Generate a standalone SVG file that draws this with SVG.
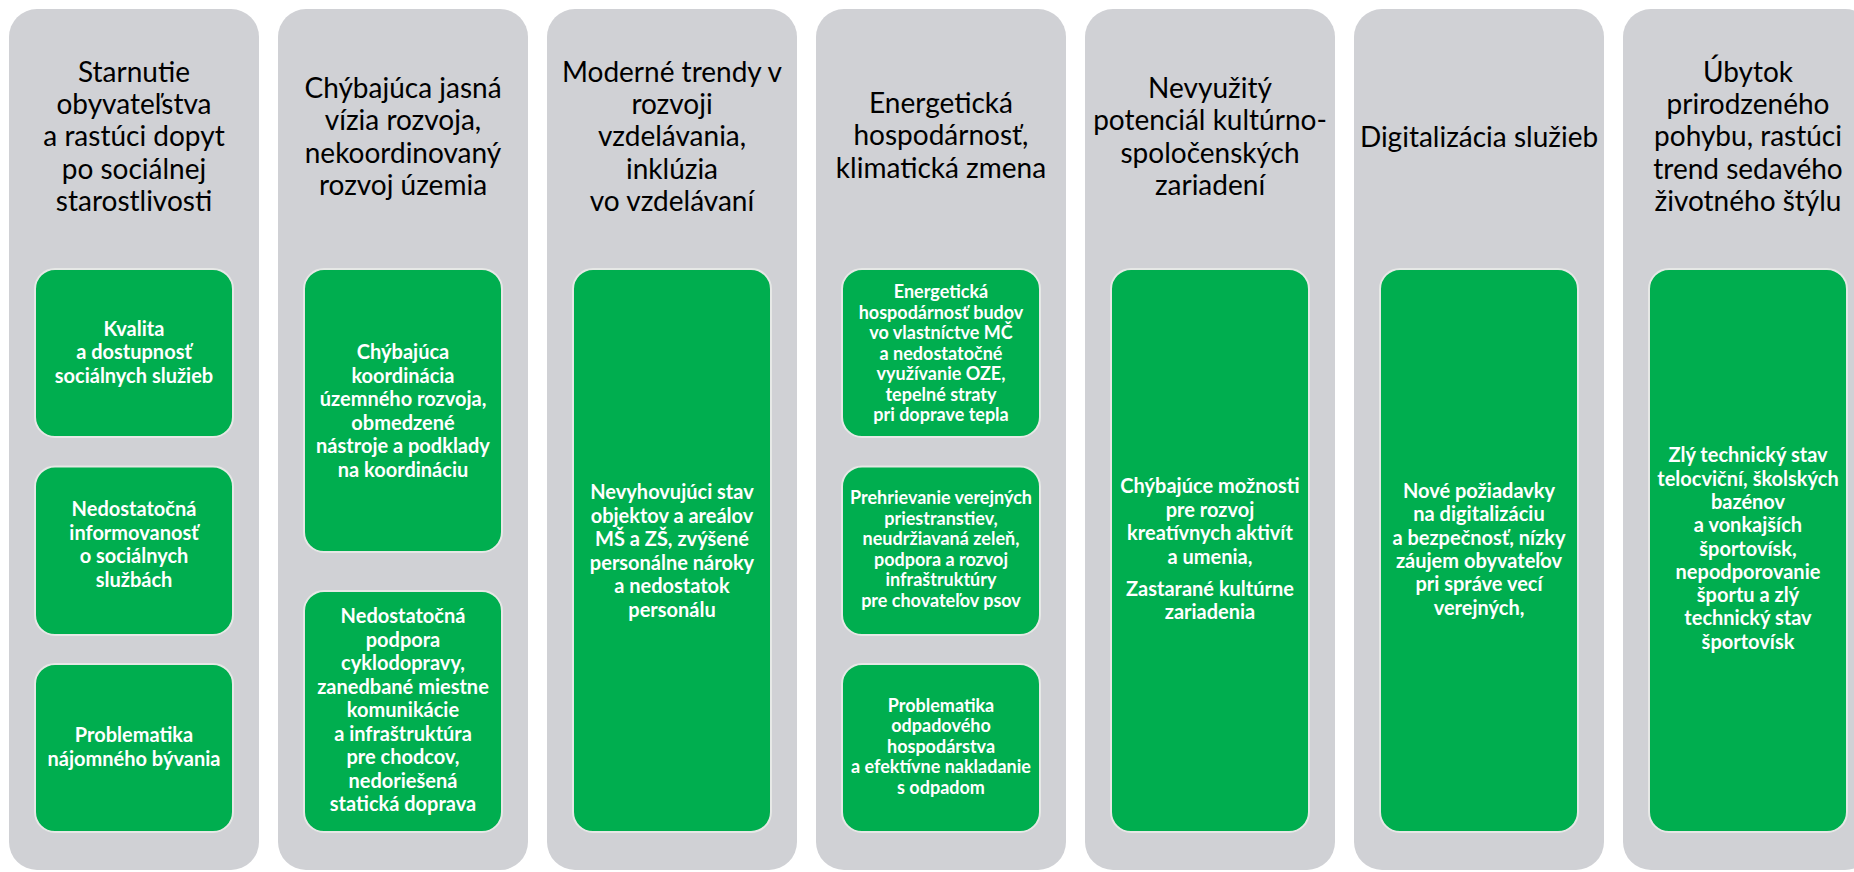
<svg xmlns="http://www.w3.org/2000/svg" width="1854" height="872" viewBox="0 0 1854 872">
<style>
.panel{fill:#D0D1D5}
.box{fill:#00AE4F;stroke:#E6E8E6;stroke-width:2}
.hdr{font-family:Lato,"Liberation Sans",sans-serif;font-size:28px;fill:#000;text-anchor:middle}
.bt{font-family:Lato,"Liberation Sans",sans-serif;font-weight:bold;font-size:20px;fill:#fff;text-anchor:middle}
.bs{font-size:18px}
</style>
<rect width="1854" height="872" fill="#fff"/>

<g id="col1">
<rect class="panel" x="9" y="9" width="250" height="861" rx="28"/>
<text class="hdr"><tspan x="134" y="82">Starnutie</tspan><tspan x="134" y="114.2">obyvateľstva</tspan><tspan x="134" y="146.4">a rastúci dopyt</tspan><tspan x="134" y="178.6">po sociálnej</tspan><tspan x="134" y="210.8">starostlivosti</tspan></text>
<g id="col1-box1"><rect class="box" x="35" y="269" width="198" height="168" rx="20"/>
<text class="bt"><tspan x="134" y="335.5">Kvalita</tspan><tspan x="134" y="359">a dostupnosť</tspan><tspan x="134" y="382.5">sociálnych služieb</tspan></text></g>
<g id="col1-box2"><rect class="box" x="35" y="466.5" width="198" height="168.5" rx="20"/>
<text class="bt"><tspan x="134" y="516">Nedostatočná</tspan><tspan x="134" y="539.5">informovanosť</tspan><tspan x="134" y="563">o sociálnych</tspan><tspan x="134" y="586.5">službách</tspan></text></g>
<g id="col1-box3"><rect class="box" x="35" y="664" width="198" height="168" rx="20"/>
<text class="bt"><tspan x="134" y="742">Problematika</tspan><tspan x="134" y="765.5">nájomného bývania</tspan></text></g>
</g>

<g id="col2">
<rect class="panel" x="278" y="9" width="250" height="861" rx="28"/>
<text class="hdr"><tspan x="403" y="98">Chýbajúca jasná</tspan><tspan x="403" y="130.3">vízia rozvoja,</tspan><tspan x="403" y="162.6">nekoordinovaný</tspan><tspan x="403" y="194.9">rozvoj územia</tspan></text>
<g id="col2-box1"><rect class="box" x="304" y="269" width="198" height="283" rx="20"/>
<text class="bt"><tspan x="403" y="359">Chýbajúca</tspan><tspan x="403" y="382.5">koordinácia</tspan><tspan x="403" y="406">územného rozvoja,</tspan><tspan x="403" y="429.5">obmedzené</tspan><tspan x="403" y="453">nástroje a podklady</tspan><tspan x="403" y="476.5">na koordináciu</tspan></text></g>
<g id="col2-box2"><rect class="box" x="304" y="591" width="198" height="241" rx="20"/>
<text class="bt"><tspan x="403" y="623">Nedostatočná</tspan><tspan x="403" y="646.5">podpora</tspan><tspan x="403" y="670">cyklodopravy,</tspan><tspan x="403" y="693.5">zanedbané miestne</tspan><tspan x="403" y="717">komunikácie</tspan><tspan x="403" y="740.5">a infraštruktúra</tspan><tspan x="403" y="764">pre chodcov,</tspan><tspan x="403" y="787.5">nedoriešená</tspan><tspan x="403" y="811">statická doprava</tspan></text></g>
</g>

<g id="col3">
<rect class="panel" x="547" y="9" width="250" height="861" rx="28"/>
<text class="hdr"><tspan x="672" y="82">Moderné trendy v</tspan><tspan x="672" y="114.2">rozvoji</tspan><tspan x="672" y="146.4">vzdelávania,</tspan><tspan x="672" y="178.6">inklúzia</tspan><tspan x="672" y="210.8">vo vzdelávaní</tspan></text>
<g id="col3-box1"><rect class="box" x="573" y="269" width="198" height="563" rx="20"/>
<text class="bt"><tspan x="672" y="499">Nevyhovujúci stav</tspan><tspan x="672" y="522.5">objektov a areálov</tspan><tspan x="672" y="546">MŠ a ZŠ, zvýšené</tspan><tspan x="672" y="569.5">personálne nároky</tspan><tspan x="672" y="593">a nedostatok</tspan><tspan x="672" y="616.5">personálu</tspan></text></g>
</g>

<g id="col4">
<rect class="panel" x="816" y="9" width="250" height="861" rx="28"/>
<text class="hdr"><tspan x="941" y="113">Energetická</tspan><tspan x="941" y="145.3">hospodárnosť,</tspan><tspan x="941" y="177.6">klimatická zmena</tspan></text>
<g id="col4-box1"><rect class="box" x="842" y="269" width="198" height="168" rx="20"/>
<text class="bt bs"><tspan x="941" y="298">Energetická</tspan><tspan x="941" y="318.5">hospodárnosť budov</tspan><tspan x="941" y="339">vo vlastníctve MČ</tspan><tspan x="941" y="359.5">a nedostatočné</tspan><tspan x="941" y="380">využívanie OZE,</tspan><tspan x="941" y="400.5">tepelné straty</tspan><tspan x="941" y="421">pri doprave tepla</tspan></text></g>
<g id="col4-box2"><rect class="box" x="842" y="466.5" width="198" height="168.5" rx="20"/>
<text class="bt bs"><tspan x="941" y="504">Prehrievanie verejných</tspan><tspan x="941" y="524.5">priestranstiev,</tspan><tspan x="941" y="545">neudržiavaná zeleň,</tspan><tspan x="941" y="565.5">podpora a rozvoj</tspan><tspan x="941" y="586">infraštruktúry</tspan><tspan x="941" y="606.5">pre chovateľov psov</tspan></text></g>
<g id="col4-box3"><rect class="box" x="842" y="664" width="198" height="168" rx="20"/>
<text class="bt bs"><tspan x="941" y="711.5">Problematika</tspan><tspan x="941" y="732">odpadového</tspan><tspan x="941" y="752.5">hospodárstva</tspan><tspan x="941" y="773">a efektívne nakladanie</tspan><tspan x="941" y="793.5">s odpadom</tspan></text></g>
</g>

<g id="col5">
<rect class="panel" x="1085" y="9" width="250" height="861" rx="28"/>
<text class="hdr"><tspan x="1210" y="98">Nevyužitý</tspan><tspan x="1210" y="130.3">potenciál kultúrno-</tspan><tspan x="1210" y="162.6">spoločenských</tspan><tspan x="1210" y="194.9">zariadení</tspan></text>
<g id="col5-box1"><rect class="box" x="1111" y="269" width="198" height="563" rx="20"/>
<text class="bt"><tspan x="1210" y="493">Chýbajúce možnosti</tspan><tspan x="1210" y="516.5">pre rozvoj</tspan><tspan x="1210" y="540">kreatívnych aktivít</tspan><tspan x="1210" y="563.5">a umenia,</tspan><tspan x="1210" y="595.5">Zastarané kultúrne</tspan><tspan x="1210" y="619">zariadenia</tspan></text></g>
</g>

<g id="col6">
<rect class="panel" x="1354" y="9" width="250" height="861" rx="28"/>
<text class="hdr"><tspan x="1479" y="147">Digitalizácia služieb</tspan></text>
<g id="col6-box1"><rect class="box" x="1380" y="269" width="198" height="563" rx="20"/>
<text class="bt"><tspan x="1479" y="498">Nové požiadavky</tspan><tspan x="1479" y="521.3">na digitalizáciu</tspan><tspan x="1479" y="544.6">a bezpečnosť, nízky</tspan><tspan x="1479" y="567.9">záujem obyvateľov</tspan><tspan x="1479" y="591.2">pri správe vecí</tspan><tspan x="1479" y="614.5">verejných,</tspan></text></g>
</g>

<g id="col7">
<rect class="panel" x="1623" y="9" width="250" height="861" rx="28"/>
<text class="hdr"><tspan x="1748" y="82">Úbytok</tspan><tspan x="1748" y="114.2">prirodzeného</tspan><tspan x="1748" y="146.4">pohybu, rastúci</tspan><tspan x="1748" y="178.6">trend sedavého</tspan><tspan x="1748" y="210.8">životného štýlu</tspan></text>
<g id="col7-box1"><rect class="box" x="1649" y="269" width="198" height="563" rx="20"/>
<text class="bt"><tspan x="1748" y="462.3">Zlý technický stav</tspan><tspan x="1748" y="485.6">telocviční, školských</tspan><tspan x="1748" y="508.9">bazénov</tspan><tspan x="1748" y="532.2">a vonkajších</tspan><tspan x="1748" y="555.5">športovísk,</tspan><tspan x="1748" y="578.8">nepodporovanie</tspan><tspan x="1748" y="602.1">športu a zlý</tspan><tspan x="1748" y="625.4">technický stav</tspan><tspan x="1748" y="648.7">športovísk</tspan></text></g>
</g>
</svg>
